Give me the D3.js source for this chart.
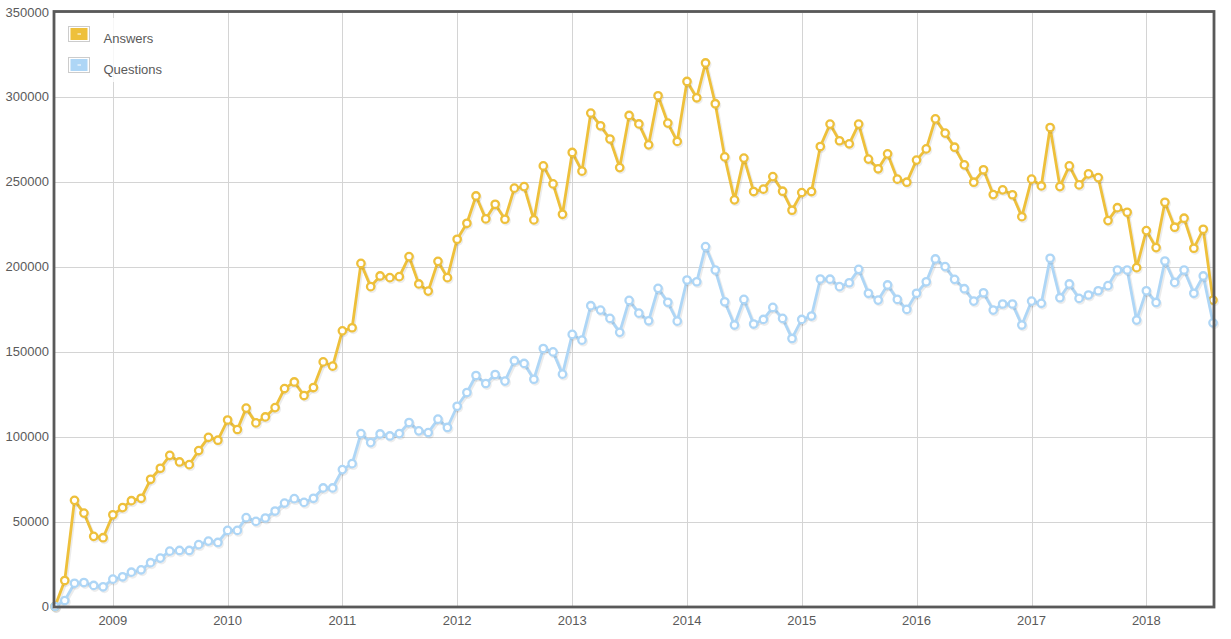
<!DOCTYPE html>
<html>
<head>
<meta charset="utf-8">
<script src="https://cdn.jsdelivr.net/npm/d3@7.9.0/dist/d3.min.js"></script>
<style>
    body { margin: 0; background: #fff; }
    svg { display: block; font-family: "Liberation Sans", Arial, sans-serif; }
</style>
</head>
<body>
<svg width="1231" height="639"></svg>
<script>
// monthly totals, Jul 2008 .. Aug 2018
const startMonth = new Date(2008, 6, 1);
const endMonth = new Date(2018, 7, 1);

const answers = [
    0, 15300, 62500, 55000, 41300, 40500,
    54000, 58200, 62300, 63700, 74900, 81400, 89000, 85100, 83500, 91800, 99600, 97900,
    109800, 104200, 116800, 108100, 111600, 117100, 128300, 132200, 124200, 128900, 144000, 141500,
    162300, 164100, 202000, 188300, 194600, 193600, 194200, 206000, 189900, 185700, 203200, 193600,
    216200, 225600, 241700, 228200, 236800, 228000, 246300, 247200, 227600, 259400, 248800, 230900,
    267300, 256300, 290500, 283000, 275200, 258400, 289100, 284100, 271800, 300700, 284600, 273800,
    309100, 299500, 320000, 296000, 264700, 239400, 264000, 244300, 245700, 253100, 244500, 233300,
    243700, 244300, 270800, 284000, 274200, 272400, 284000, 263400, 257700, 266500, 251600, 249800,
    262800, 269400, 287100, 278700, 270400, 260000, 249800, 257100, 242500, 245300, 242400, 229500,
    251600, 247600, 282000, 247200, 259400, 248200, 254700, 252500, 227200, 234800, 232100, 199500,
    221300, 211300, 238000, 223300, 228600, 210900, 222100, 180400
];

const questions = [
    0, 3500, 13700, 14100, 12400, 11600,
    16100, 17500, 20200, 21600, 25800, 28500, 32600, 33000, 33000, 36400, 38500, 37700,
    44800, 44800, 52300, 50100, 52100, 56200, 60900, 63500, 61300, 63700, 69800, 69800,
    80600, 84100, 101800, 96500, 101600, 100400, 101800, 108300, 103400, 102400, 110300, 105400,
    117900, 126000, 136000, 131300, 136600, 132700, 144700, 143100, 133800, 151900, 149900, 136800,
    160200, 156800, 177100, 174500, 169600, 161400, 180200, 172700, 168200, 187300, 179100, 168000,
    192200, 191200, 211900, 198100, 179400, 165700, 180800, 166300, 169000, 176100, 169600, 157800,
    169000, 171000, 192800, 192700, 188300, 190600, 198500, 184400, 180400, 189300, 180800, 174900,
    184400, 191200, 204600, 200100, 192600, 187100, 179800, 184700, 174500, 178100, 178100, 165700,
    179800, 178500, 205000, 181800, 189900, 181400, 183400, 185900, 188900, 198100, 198100, 168600,
    185900, 179000, 203400, 190800, 198100, 184400, 194600, 167000
];

const yearTicks = [2009, 2010, 2011, 2012, 2013, 2014, 2015, 2016, 2017, 2018];
const yTicks = [0, 50000, 100000, 150000, 200000, 250000, 300000, 350000];

const seriesNames = ['Answers', 'Questions'];
const seriesColors = ['#eec03b', '#aed6f6'];

let months = d3.timeMonth.range(startMonth, d3.timeMonth.offset(endMonth, 1));

let svg = d3.select('svg');

let x = d3.scaleTime()
    .domain([startMonth, endMonth])
    .range([55, 1213]);

let y = d3.scaleLinear()
    .domain([0, 350000])
    .range([606.5, 12]);

// grid
let grid = svg.append('g');
grid.selectAll('line.h')
    .data(yTicks)
    .join('line')
    .attr('x1', 54).attr('x2', 1214)
    .attr('y1', d => Math.round(y(d)) + 0.5)
    .attr('y2', d => Math.round(y(d)) + 0.5)
    .attr('stroke', '#d4d4d4');

grid.selectAll('line.v')
    .data(yearTicks)
    .join('line')
    .attr('x1', d => Math.round(x(new Date(d, 0, 1))) + 0.5)
    .attr('x2', d => Math.round(x(new Date(d, 0, 1))) + 0.5)
    .attr('y1', 12).attr('y2', 607)
    .attr('stroke', '#d4d4d4');

// axis labels
svg.append('g').selectAll('text')
    .data(yTicks)
    .join('text')
    .attr('x', 49)
    .attr('y', d => y(d) + 4.5)
    .attr('text-anchor', 'end')
    .attr('font-size', 13)
    .attr('fill', '#5a5a5a')
    .text(d => d);

svg.append('g').selectAll('text')
    .data(yearTicks)
    .join('text')
    .attr('x', d => x(new Date(d, 0, 1)))
    .attr('y', 625)
    .attr('text-anchor', 'middle')
    .attr('font-size', 13)
    .attr('fill', '#5a5a5a')
    .text(d => d);

// legend background (drawn under the series)
svg.append('rect')
    .attr('x', 60).attr('y', 18)
    .attr('width', 112).attr('height', 64)
    .attr('fill', '#fff')
    .attr('opacity', 0.8);

let line = d3.line()
    .x((d, i) => x(months[i]))
    .y(d => y(d));

[answers, questions].forEach((values, s) => {
    let g = svg.append('g');

    // soft shadow under the line and markers
    g.append('path')
        .attr('d', line(values))
        .attr('transform', 'translate(1.2,1.6)')
        .attr('fill', 'none')
        .attr('stroke', 'rgba(0,0,0,0.08)')
        .attr('stroke-width', 3.5)
        .attr('stroke-linejoin', 'round');

    g.append('path')
        .attr('d', line(values))
        .attr('fill', 'none')
        .attr('stroke', seriesColors[s])
        .attr('stroke-width', 2.8)
        .attr('stroke-linejoin', 'round');

    g.selectAll('circle.shadow')
        .data(values)
        .join('circle')
        .attr('cx', (d, i) => x(months[i]) + 1.2)
        .attr('cy', d => y(d) + 1.6)
        .attr('r', 3.7)
        .attr('fill', 'none')
        .attr('stroke', 'rgba(0,0,0,0.07)')
        .attr('stroke-width', 2.3);

    g.selectAll('circle.dot')
        .data(values)
        .join('circle')
        .attr('cx', (d, i) => x(months[i]))
        .attr('cy', d => y(d))
        .attr('r', 3.7)
        .attr('fill', '#fff')
        .attr('stroke', seriesColors[s])
        .attr('stroke-width', 2.3);
});

// plot border
svg.append('rect')
    .attr('x', 54).attr('y', 11.5)
    .attr('width', 1160).attr('height', 595.5)
    .attr('fill', 'none')
    .attr('stroke', '#595959')
    .attr('stroke-width', 2.8);

// legend
let legend = svg.append('g');
seriesNames.forEach((name, i) => {
    let ly = 26.5 + i * 31;
    legend.append('rect')
        .attr('x', 68.5).attr('y', ly)
        .attr('width', 21).attr('height', 15)
        .attr('fill', '#fff')
        .attr('stroke', '#cccccc');
    legend.append('rect')
        .attr('x', 70.5).attr('y', ly + 1.5)
        .attr('width', 17).attr('height', 12)
        .attr('fill', seriesColors[i]);
    legend.append('line')
        .attr('x1', 77.5).attr('x2', 81)
        .attr('y1', ly + 7.5).attr('y2', ly + 7.5)
        .attr('stroke', '#fff')
        .attr('stroke-width', 1);
    legend.append('text')
        .attr('x', 103.5)
        .attr('y', ly + 16)
        .attr('font-size', 13)
        .attr('fill', '#5a5a5a')
        .text(name);
});
</script>
</body>
</html>
